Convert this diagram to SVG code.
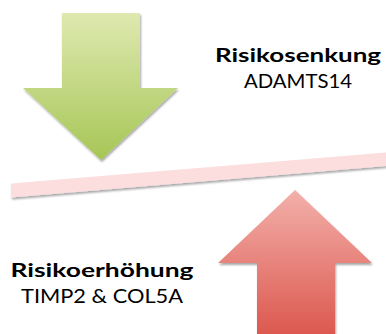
<svg xmlns="http://www.w3.org/2000/svg" width="386" height="334" viewBox="0 0 386 334">
<defs>
<linearGradient id="gGreen" x1="0" y1="0" x2="0" y2="1">
<stop offset="0" stop-color="#dfe9b0"/>
<stop offset="1" stop-color="#a6c656"/>
</linearGradient>
<linearGradient id="gRed" x1="0" y1="0" x2="0" y2="1">
<stop offset="0" stop-color="#f3b0ab"/>
<stop offset="1" stop-color="#db554b"/>
</linearGradient>
<filter id="sh" x="-20%" y="-20%" width="140%" height="140%">
<feGaussianBlur in="SourceAlpha" stdDeviation="1.2"/>
<feOffset dx="1" dy="1.5" result="b"/>
<feComponentTransfer><feFuncA type="linear" slope="0.35"/></feComponentTransfer>
<feMerge><feMergeNode/><feMergeNode in="SourceGraphic"/></feMerge>
</filter>
</defs>
<style>
.b{font-family:"Lato","Liberation Sans",sans-serif;font-weight:bold;font-size:18px;fill:#000}
.r{font-family:"Lato","Liberation Sans",sans-serif;font-size:19px;fill:#000}
</style>
<rect width="386" height="334" fill="#ffffff"/>
<g id="bar">
<polygon points="11,183.5 386,152.5 386,166 11,197.5" fill="#fbdedd" filter="url(#sh)"/>
</g>
<g id="arrow-down">
<polygon points="62,13 140,13 140,88 178,88 101,160 23,88 62,88" fill="url(#gGreen)" filter="url(#sh)"/>
</g>
<g id="arrow-up">
<polygon points="295,190 372,263 335,263 335,340 257,340 257,263 218,263" fill="url(#gRed)" filter="url(#sh)"/>
</g>
<g id="label-senkung">
<text class="b" x="298" y="62" text-anchor="middle" textLength="166" lengthAdjust="spacingAndGlyphs">Risikosenkung</text>
<text class="r" x="298" y="88" text-anchor="middle" textLength="108" lengthAdjust="spacingAndGlyphs">ADAMTS14</text>
</g>
<g id="label-erhoehung">
<text class="b" x="102" y="277" text-anchor="middle" textLength="183" lengthAdjust="spacingAndGlyphs">Risikoerhöhung</text>
<text class="r" x="102" y="303" text-anchor="middle" textLength="162" lengthAdjust="spacingAndGlyphs">TIMP2 &amp; COL5A</text>
</g>
</svg>
